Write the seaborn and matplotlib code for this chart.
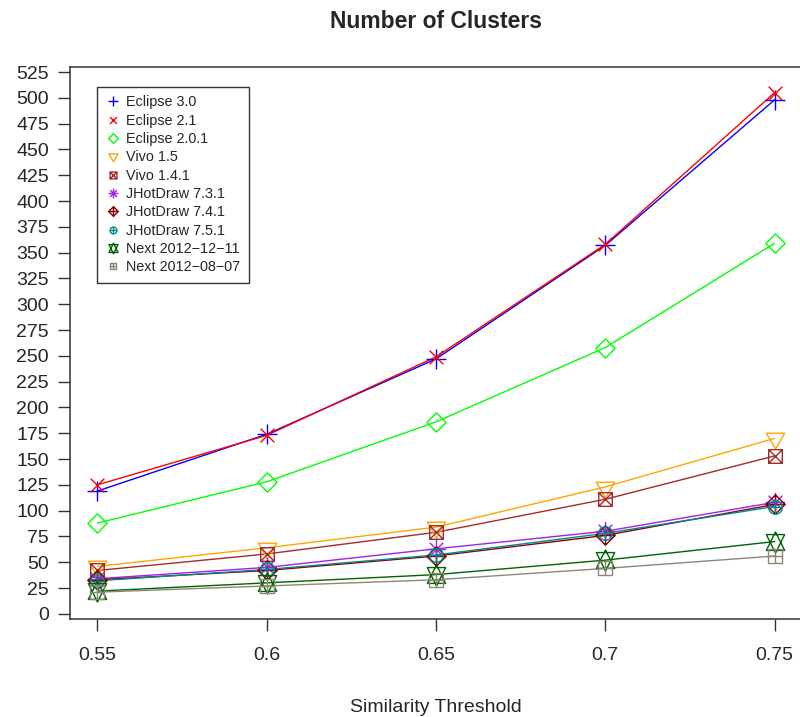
import matplotlib

matplotlib.use("Agg")

import matplotlib.pyplot as plt
import numpy as np
import pandas as pd
import seaborn as sns
from matplotlib.lines import Line2D
from matplotlib.path import Path

DPI = 100

thresholds = [0.55, 0.6, 0.65, 0.7, 0.75]
y_ticks = list(range(0, 526, 25))

series_names = [
    "Eclipse 3.0",
    "Eclipse 2.1",
    "Eclipse 2.0.1",
    "Vivo 1.5",
    "Vivo 1.4.1",
    "JHotDraw 7.3.1",
    "JHotDraw 7.4.1",
    "JHotDraw 7.5.1",
    "Next 2012\u221212\u221211",
    "Next 2012\u221208\u221207",
]

eclipse_30 = [119, 174, 247, 357, 498]
eclipse_21 = [125, 173, 249, 358, 505]
eclipse_201 = [88, 128, 186, 258, 359]
vivo_15 = [46, 64, 84, 123, 170]
vivo_141 = [42, 58, 79, 111, 153]
jhotdraw_731 = [34, 45, 63, 80, 108]
jhotdraw_741 = [33, 42, 56, 76, 106]
jhotdraw_751 = [32, 43, 57, 78, 104]
next_1211 = [22, 30, 38, 52, 70]
next_0807 = [21, 27, 33, 44, 56]

series_values = [
    eclipse_30, eclipse_21, eclipse_201, vivo_15, vivo_141,
    jhotdraw_731, jhotdraw_741, jhotdraw_751, next_1211, next_0807,
]

colors = [
    "#0000FF", "#FF0000", "#00FF00", "#FFA500", "#A52A2A",
    "#A020F0", "#8B0000", "#008B8B", "#006400", "#8B8878",
]


# R-style point symbols (pch 3..12), built in units of the symbol radius
def _poly(pts, closed=False):
    verts = list(pts)
    codes = [Path.MOVETO] + [Path.LINETO] * (len(pts) - 1)
    if closed:
        verts.append(pts[0])
        codes.append(Path.CLOSEPOLY)
    return Path(verts, codes)


def _plus(s):
    return [_poly([(-s, 0), (s, 0)]), _poly([(0, -s), (0, s)])]


def _cross(s):
    return [_poly([(-s, -s), (s, s)]), _poly([(-s, s), (s, -s)])]


def _square(s):
    return _poly([(-s, -s), (s, -s), (s, s), (-s, s)], closed=True)


def _diamond(s):
    return _poly([(0, s), (s, 0), (0, -s), (-s, 0)], closed=True)


SQ2 = np.sqrt(2)
TRC0, TRC1, TRC2 = 1.5551, 1.3468, 0.7776
yc11 = 0.5 * (TRC2 + TRC0)

symbols = [
    Path.make_compound_path(*_plus(SQ2)),
    Path.make_compound_path(*_cross(1)),
    _diamond(SQ2),
    _poly([(0, -TRC0), (TRC1, TRC2), (-TRC1, TRC2)], closed=True),
    Path.make_compound_path(_square(1), *_cross(1)),
    Path.make_compound_path(*_cross(1), *_plus(SQ2)),
    Path.make_compound_path(_diamond(SQ2), *_plus(SQ2)),
    Path.make_compound_path(Path.unit_circle(), *_plus(1)),
    Path.make_compound_path(
        _poly([(0, -TRC0), (TRC1, yc11), (-TRC1, yc11)], closed=True),
        _poly([(0, TRC0), (TRC1, -yc11), (-TRC1, -yc11)], closed=True),
    ),
    Path.make_compound_path(_square(1), *_plus(1)),
]


def marker_size(path, radius_px):
    return 2 * np.abs(path.vertices).max() * radius_px * 72 / DPI


df = pd.DataFrame(
    [
        {"threshold": t, "clusters": v, "series": name}
        for name, values in zip(series_names, series_values)
        for t, v in zip(thresholds, values)
    ]
)

sns.set_style("ticks")
plt.rcParams["font.family"] = ["Liberation Sans", "DejaVu Sans"]

fig = plt.figure(figsize=(800 / DPI, 717 / DPI), dpi=DPI)
ax = fig.add_axes([0.088, 0.1367, 0.914, 0.770])

sns.lineplot(
    data=df, x="threshold", y="clusters", hue="series",
    hue_order=series_names, palette=colors, linewidth=1.0,
    legend=False, ax=ax, estimator=None, sort=False,
)

handles = []
for name, values, color, sym in zip(series_names, series_values, colors, symbols):
    ax.plot(
        thresholds, values, linestyle="none", marker=sym,
        markersize=marker_size(sym, 6.8), markeredgecolor=color,
        markerfacecolor="none", markeredgewidth=1.0,
    )
    handles.append(
        Line2D([], [], linestyle="none", marker=sym,
               markersize=marker_size(sym, 3.4), markeredgecolor=color,
               markerfacecolor="none", markeredgewidth=1.0, label=name)
    )

ax.set_xlim(0.542, 0.758)
ax.set_ylim(-5, 530)
ax.set_xticks(thresholds)
ax.set_xticklabels(["0.55", "0.6", "0.65", "0.7", "0.75"])
ax.set_yticks(y_ticks)
ax.tick_params(axis="both", labelsize=14, length=8.5, width=1.0,
               color="#333333", direction="out")
ax.tick_params(axis="y", pad=7)
ax.tick_params(axis="x", pad=12)
for spine in ax.spines.values():
    spine.set_visible(True)
    spine.set_color("#333333")
    spine.set_linewidth(1.1)

ax.set_xlabel("Similarity Threshold", fontsize=14, labelpad=25)
ax.set_ylabel("")
ax.set_title("Number of Clusters", fontsize=16.5, fontweight="bold", pad=28)

leg = ax.legend(
    handles=handles, loc="upper left", bbox_to_anchor=(0.036, 0.964),
    borderaxespad=0, fontsize=10.4, frameon=True, fancybox=False,
    handlelength=1.0, handletextpad=0.45, labelspacing=0.3, borderpad=0.6,
)
leg.get_frame().set_edgecolor("black")
leg.get_frame().set_linewidth(1.0)

fig.savefig("out.png", dpi=DPI)
